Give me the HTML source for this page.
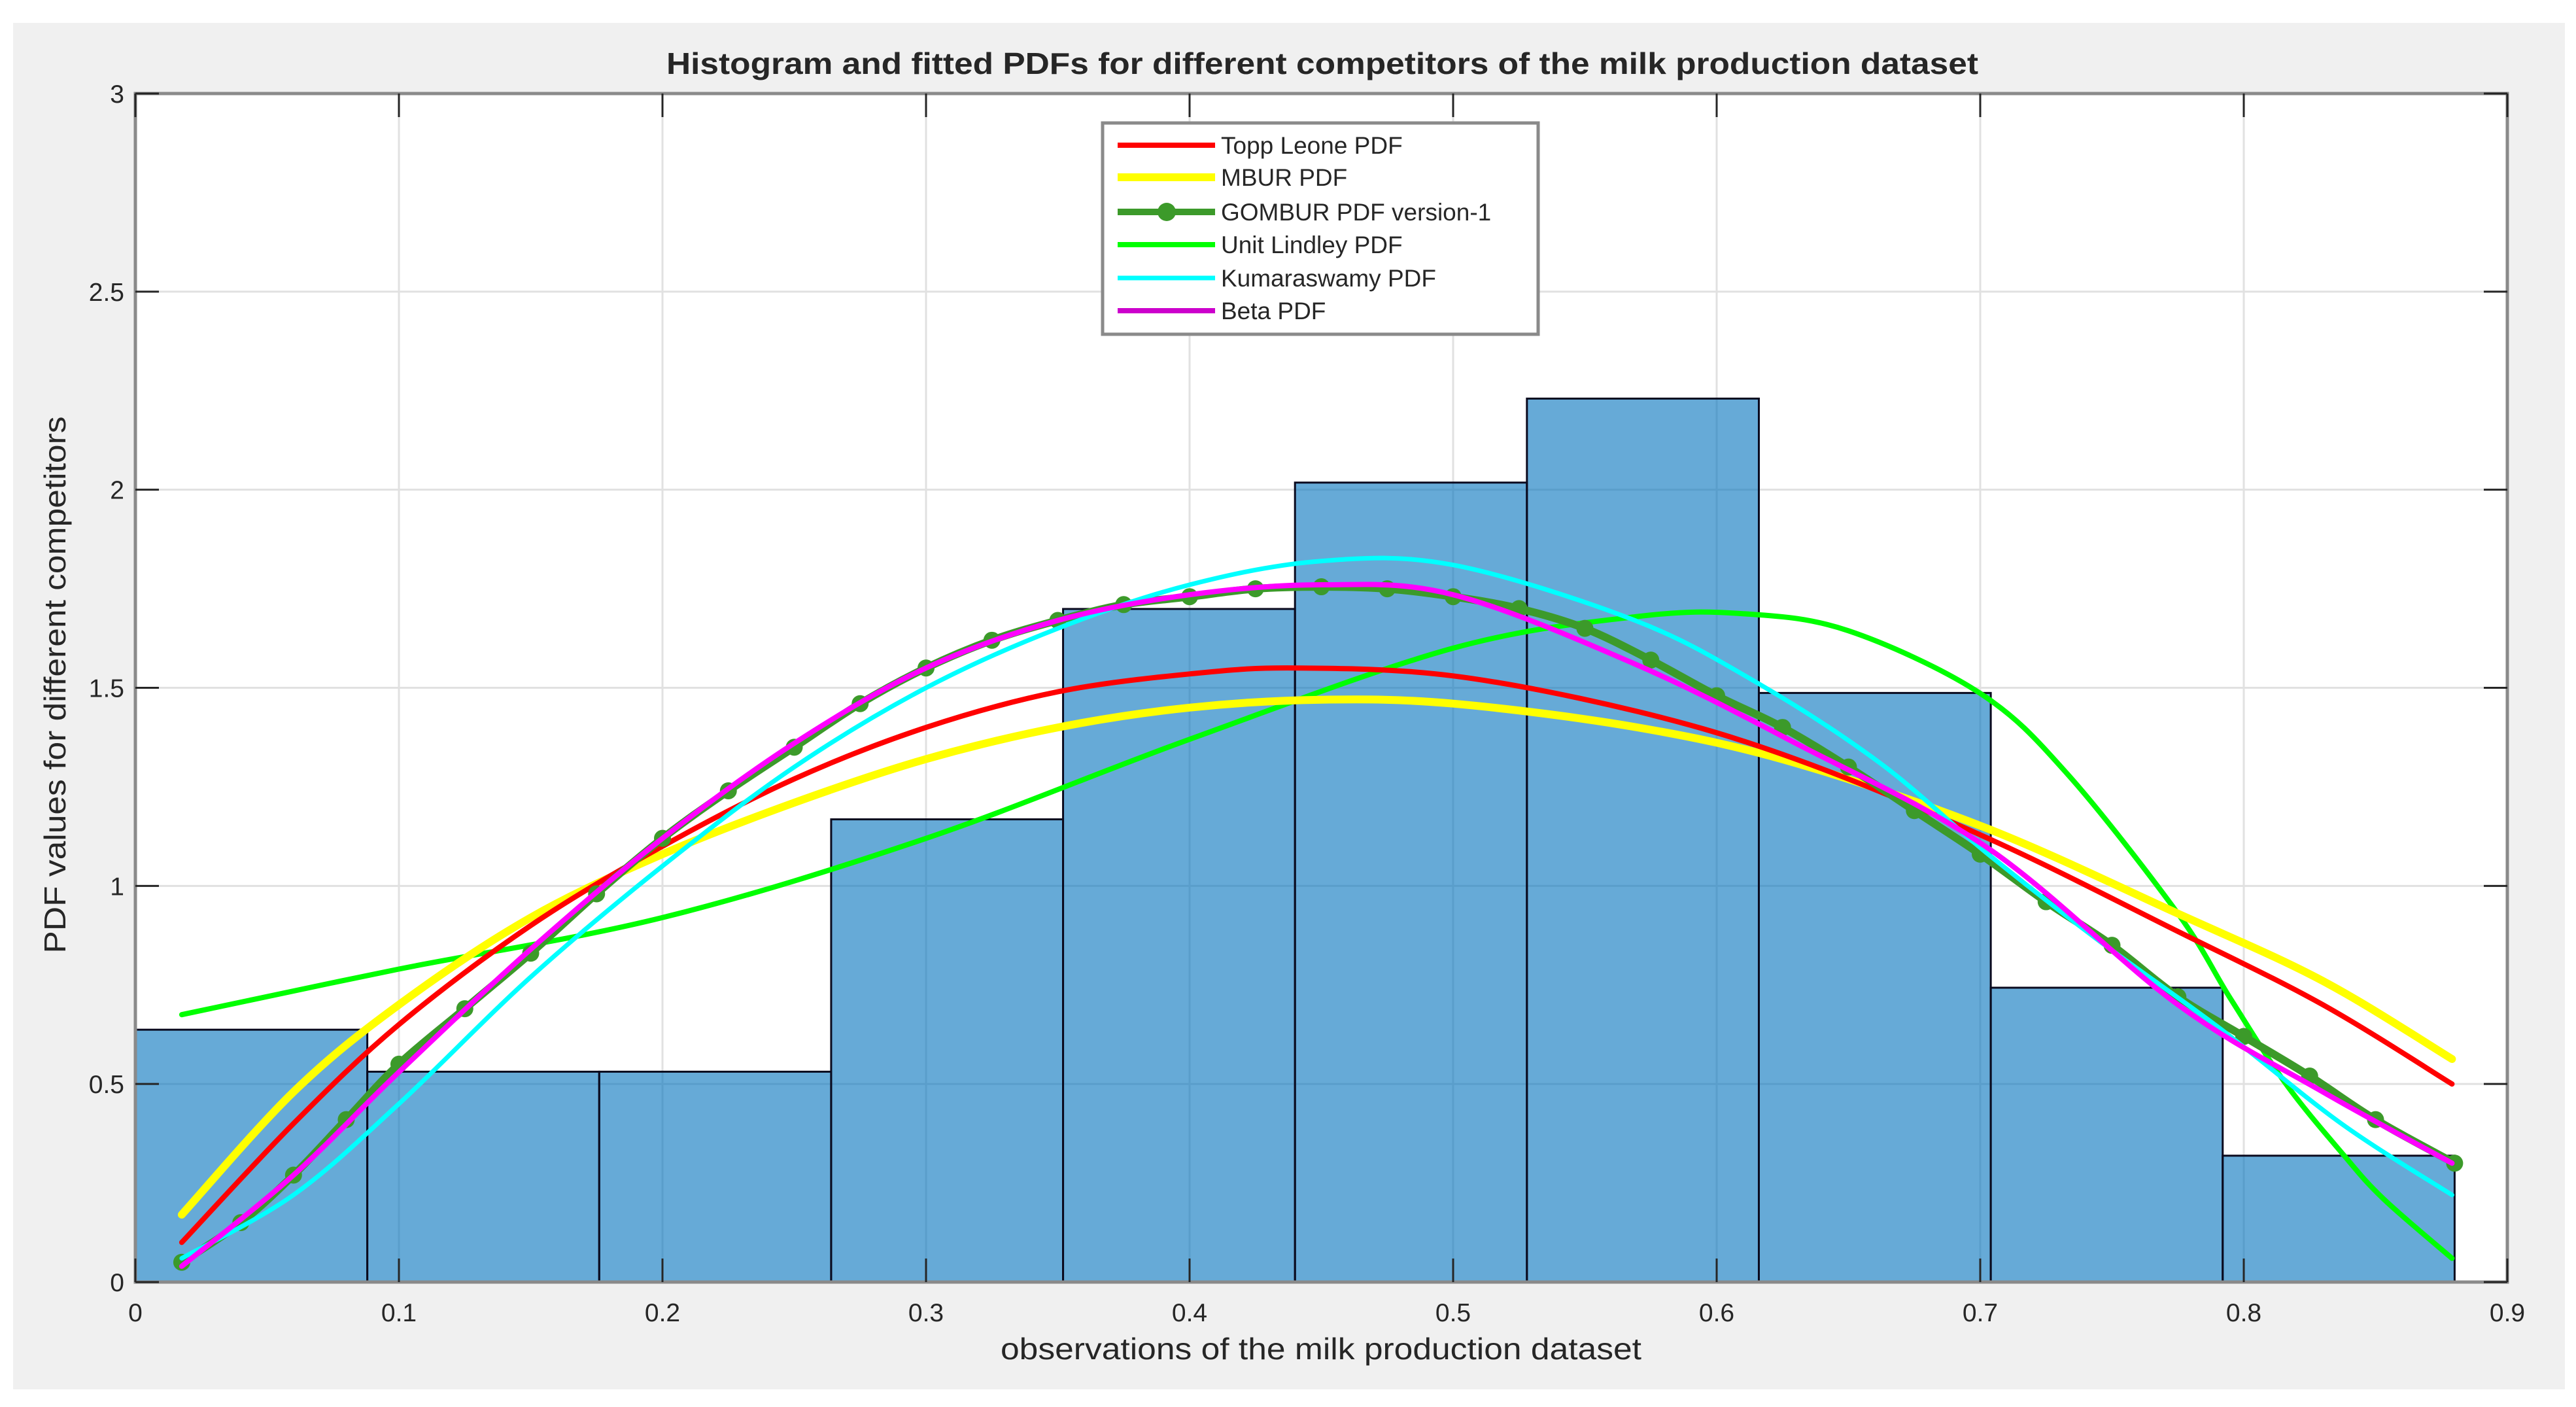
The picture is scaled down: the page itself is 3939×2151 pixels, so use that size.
<!DOCTYPE html>
<html><head><meta charset="utf-8"><style>
html,body{margin:0;padding:0;background:#fff}
svg{display:block}
text{font-family:"Liberation Sans",Arial,sans-serif;fill:#262626}
</style></head><body>
<svg id="chart" width="3939" height="2151" viewBox="0 0 3939 2151" xmlns="http://www.w3.org/2000/svg">
<rect x="20" y="35" width="3902" height="2089" fill="#f0f0f0"/>
<rect x="207" y="143" width="3627" height="1817" fill="#ffffff"/>
<g id="grid"></g>
<g id="bars"></g>
<g id="curves"></g>
<rect x="207" y="143" width="3627" height="1817" fill="none" stroke="#8a8a8a" stroke-width="5"/>
<g id="ticks"></g>
<text x="2022" y="113" text-anchor="middle" font-size="46" font-weight="bold" fill="#000" textLength="2006" lengthAdjust="spacingAndGlyphs">Histogram and fitted PDFs for different competitors of the milk production dataset</text>
<text x="2020" y="2078" text-anchor="middle" font-size="46" textLength="980" lengthAdjust="spacingAndGlyphs">observations of the milk production dataset</text>
<text transform="translate(100,1047) rotate(-90)" text-anchor="middle" font-size="46" textLength="821" lengthAdjust="spacingAndGlyphs">PDF values for different competitors</text>
<g id="legend">
<rect x="1686" y="188" width="666" height="323" fill="#fff" stroke="#8a8a8a" stroke-width="5"/>
</g>
</svg>
<script>
const binEdgeStart = 0.0;
const binWidth = 0.088;
const binDensities = [0.637, 0.531, 0.531, 1.168, 1.699, 2.018, 2.230, 1.487, 0.743, 0.319];
const xTicks = [0, 0.1, 0.2, 0.3, 0.4, 0.5, 0.6, 0.7, 0.8, 0.9];
const xTickLabels = ["0","0.1","0.2","0.3","0.4","0.5","0.6","0.7","0.8","0.9"];
const yTicks = [0, 0.5, 1, 1.5, 2, 2.5, 3];
const yTickLabels = ["0","0.5","1","1.5","2","2.5","3"];

const toppX = [0.0176,0.06,0.1,0.15,0.2,0.25,0.3,0.35,0.4,0.44,0.5,0.57,0.63,0.703,0.775,0.83,0.879];
const toppY = [0.10,0.40,0.65,0.90,1.10,1.27,1.40,1.49,1.535,1.55,1.53,1.44,1.32,1.12,0.885,0.70,0.50];
const mburX = [0.0176,0.06,0.1,0.15,0.2,0.25,0.3,0.35,0.4,0.45,0.5,0.57,0.63,0.703,0.775,0.83,0.879];
const mburY = [0.17,0.48,0.70,0.92,1.08,1.21,1.32,1.40,1.45,1.47,1.46,1.40,1.31,1.144,0.93,0.76,0.563];
const gomburX = [0.0176,0.04,0.06,0.08,0.1,0.125,0.15,0.175,0.2,0.225,0.25,0.275,0.3,0.325,0.35,0.375,0.4,0.425,0.45,0.475,0.5,0.525,0.55,0.575,0.6,0.625,0.65,0.675,0.7,0.725,0.75,0.775,0.8,0.825,0.85,0.88];
const gomburY = [0.05,0.15,0.27,0.41,0.55,0.69,0.83,0.98,1.12,1.24,1.35,1.46,1.55,1.62,1.67,1.71,1.73,1.75,1.755,1.75,1.73,1.70,1.65,1.57,1.48,1.40,1.30,1.19,1.08,0.96,0.85,0.72,0.62,0.52,0.41,0.30];
const lindleyX = [0.0176,0.1,0.2,0.3,0.4,0.5,0.57,0.61,0.65,0.7,0.733,0.775,0.795,0.816,0.838,0.853,0.879];
const lindleyY = [0.675,0.79,0.92,1.12,1.37,1.60,1.68,1.687,1.644,1.486,1.283,0.93,0.715,0.50,0.32,0.21,0.06];
const kumaX = [0.0176,0.06,0.1,0.15,0.2,0.25,0.3,0.35,0.4,0.45,0.5,0.569,0.616,0.662,0.703,0.744,0.791,0.837,0.879];
const kumaY = [0.06,0.22,0.45,0.77,1.05,1.30,1.50,1.65,1.76,1.82,1.81,1.67,1.51,1.31,1.08,0.867,0.64,0.40,0.22];
const betaX = [0.0176,0.06,0.1,0.15,0.2,0.25,0.3,0.35,0.4,0.45,0.5,0.569,0.63,0.703,0.775,0.83,0.879];
const betaY = [0.04,0.27,0.53,0.84,1.12,1.36,1.55,1.67,1.735,1.76,1.735,1.56,1.36,1.095,0.70,0.48,0.30];

const NS = "http://www.w3.org/2000/svg";
const PX0 = 207, PX1 = 3834, PY0 = 1960, PY1 = 143;
const xScale = v => PX0 + (v - 0) / 0.9 * (PX1 - PX0);
const yScale = v => PY0 - v / 3 * (PY0 - PY1);
function mk(tag, attrs, parent) {
  const e = document.createElementNS(NS, tag);
  for (const k in attrs) e.setAttribute(k, attrs[k]);
  parent.appendChild(e);
  return e;
}
const grid = document.getElementById('grid');
const ticks = document.getElementById('ticks');
xTicks.forEach((t, i) => {
  const x = xScale(t);
  const g = mk('line', {x1:x, x2:x, y1:PY1, y2:PY0, stroke:'#e1e1e1', 'stroke-width':3}, grid);
  
  
  const tk = mk('line', {x1:x, x2:x, y1:PY0, y2:PY0-36, stroke:'#262626', 'stroke-width':3}, ticks);
  
  
  const tk2 = mk('line', {x1:x, x2:x, y1:PY1, y2:PY1+36, stroke:'#262626', 'stroke-width':3}, ticks);
  
  
  const lb = mk('text', {x:x, y:2020, 'text-anchor':'middle', 'font-size':39}, ticks);
  lb.textContent = xTickLabels[i];
  
  
});
yTicks.forEach((t, i) => {
  const y = yScale(t);
  const g = mk('line', {x1:PX0, x2:PX1, y1:y, y2:y, stroke:'#e1e1e1', 'stroke-width':3}, grid);
  
  
  const tk = mk('line', {x1:PX0, x2:PX0+36, y1:y, y2:y, stroke:'#262626', 'stroke-width':3}, ticks);
  
  
  const tk2 = mk('line', {x1:PX1, x2:PX1-36, y1:y, y2:y, stroke:'#262626', 'stroke-width':3}, ticks);
  
  
  const lb = mk('text', {x:190, y:y+14, 'text-anchor':'end', 'font-size':39}, ticks);
  lb.textContent = yTickLabels[i];
  
  
});
const bars = document.getElementById('bars');
binDensities.forEach((d, i) => {
  const a = binEdgeStart + i * binWidth, b = a + binWidth;
  const x0 = xScale(a), x1 = xScale(b), y = yScale(d);
  const r = mk('rect', {x:x0, y:y, width:x1-x0, height:PY0-y, fill:'#0072bd', 'fill-opacity':0.6, stroke:'#0a0a1e', 'stroke-width':3}, bars);
  
  
});
const curves = document.getElementById('curves');
function smoothD(xs, ys) {
  const P = xs.map((x, i) => [xScale(x), yScale(ys[i])]);
  let d = 'M' + P[0][0].toFixed(1) + ' ' + P[0][1].toFixed(1);
  for (let i = 0; i < P.length - 1; i++) {
    const p0 = P[Math.max(0, i-1)], p1 = P[i], p2 = P[i+1], p3 = P[Math.min(P.length-1, i+2)];
    const c1x = p1[0] + (p2[0]-p0[0])/6, c1y = p1[1] + (p2[1]-p0[1])/6;
    const c2x = p2[0] - (p3[0]-p1[0])/6, c2y = p2[1] - (p3[1]-p1[1])/6;
    d += ' C' + c1x.toFixed(1) + ' ' + c1y.toFixed(1) + ' ' + c2x.toFixed(1) + ' ' + c2y.toFixed(1) + ' ' + p2[0].toFixed(1) + ' ' + p2[1].toFixed(1);
  }
  return d;
}
function path(xs, ys, color, w, name) {
  const p = mk('path', {d:smoothD(xs, ys), fill:'none', stroke:color, 'stroke-width':w, 'stroke-linejoin':'round', 'stroke-linecap':'round'}, curves);
  
  
  return p;
}
path(lindleyX, lindleyY, '#00ff00', 8, 'unit-lindley-curve');
path(mburX, mburY, '#ffff00', 12, 'mbur-curve');
path(toppX, toppY, '#ff0000', 8, 'topp-leone-curve');
path(gomburX, gomburY, '#3c9a2a', 12, 'gombur-curve');
gomburX.forEach((x, i) => {
  const c = mk('circle', {cx:xScale(x), cy:yScale(gomburY[i]), r:13, fill:'#3c9a2a'}, curves);
  
  
});
path(kumaX, kumaY, '#00ffff', 7, 'kumaraswamy-curve');
path(betaX, betaY, '#ff00ff', 8, 'beta-curve');

const legend = document.getElementById('legend');
const legNames = ["Topp Leone PDF","MBUR PDF"," GOMBUR PDF version-1","Unit Lindley PDF","Kumaraswamy PDF","Beta PDF"];
const legColors = ['#ff0000','#ffff00','#3c9a2a','#00ff00','#00ffff','#cc00cc'];
const legWidths = [8,12,10,8,7,8];
const legY = [222,271,324,374,425,475];
legNames.forEach((n, i) => {
  const l = mk('line', {x1:1709, x2:1858, y1:legY[i], y2:legY[i], stroke:legColors[i], 'stroke-width':legWidths[i]}, legend);
  
  
  if (i === 2) {
    const c = mk('circle', {cx:1784, cy:legY[i], r:14, fill:legColors[i]}, legend);
    
    
  }
  const t = mk('text', {x:1867, y:legY[i]+13, 'font-size':37, fill:'#000'}, legend);
  t.textContent = n;
  
  
});
</script>
</body></html>
